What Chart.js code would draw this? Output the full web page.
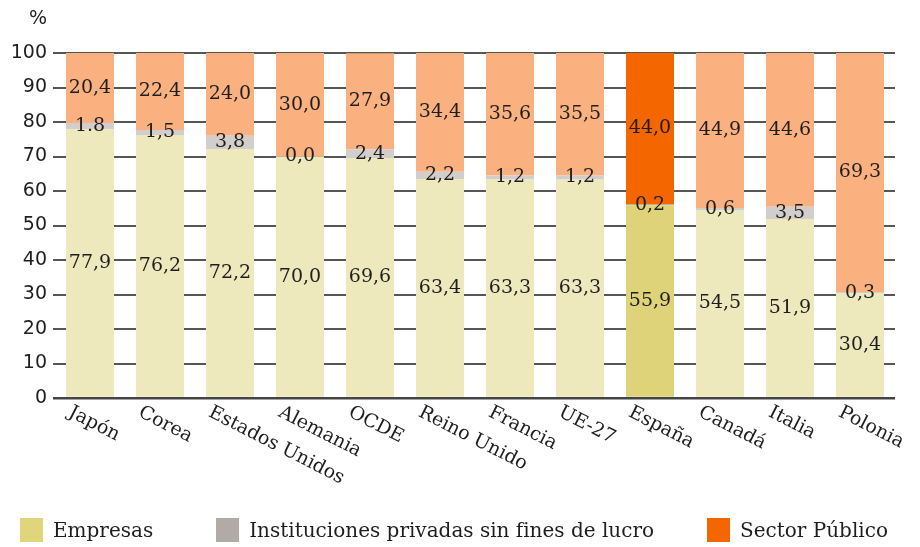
<!DOCTYPE html>
<html lang="es">
<head>
<meta charset="utf-8">
<script src="https://cdn.jsdelivr.net/npm/chart.js@4/dist/chart.umd.min.js"></script>
<style>
  html, body { margin: 0; padding: 0; background: #fff; }
  #contenedor { position: relative; width: 920px; height: 547px; }
  #leyenda {
    position: absolute; left: 20px; top: 518px;
    display: flex; gap: 63px;
    font: 20px "DejaVu Serif", serif; color: #1e1e1e;
  }
  #leyenda .item { display: flex; align-items: center; height: 24px; white-space: nowrap; }
  #leyenda .item:last-child { margin-left: -10px; }
  #leyenda .caja { width: 23px; height: 24px; margin-right: 10px; }
</style>
</head>
<body>
<div id="contenedor">
  <canvas id="graficoFinanciacion"></canvas>
  <div id="leyenda"></div>
</div>
<script>
// Países del eje X
const paises = ['Japón', 'Corea', 'Estados Unidos', 'Alemania', 'OCDE', 'Reino Unido', 'Francia', 'UE-27', 'España', 'Canadá', 'Italia', 'Polonia'];

// Porcentajes por sector de financiación
const empresas = [77.9, 76.2, 72.2, 70.0, 69.6, 63.4, 63.3, 63.3, 55.9, 54.5, 51.9, 30.4];
const instituciones = [1.8, 1.5, 3.8, 0.0, 2.4, 2.2, 1.2, 1.2, 0.2, 0.6, 3.5, 0.3];
const sectorPublico = [20.4, 22.4, 24.0, 30.0, 27.9, 34.4, 35.6, 35.5, 44.0, 44.9, 44.6, 69.3];

// Textos de las etiquetas de instituciones (Japón va con punto en el original)
const textoInstituciones = ['1.8', '1,5', '3,8', '0,0', '2,4', '2,2', '1,2', '1,2', '0,2', '0,6', '3,5', '0,3'];

// Eje Y
const ejeYMin = 0;
const ejeYMax = 100;
const ejeYPaso = 10;

// España va resaltada con colores más intensos
const destacado = 'España';
function colores(claro, oscuro) {
    return paises.map(p => p === destacado ? oscuro : claro);
}

const fuenteSerif = '"DejaVu Serif", serif';
const fuenteSans = '"DejaVu Sans", sans-serif';
const colorTexto = '#1e1e1e';

// Dibuja el valor en el centro de cada tramo
const etiquetasDatos = {
    id: 'etiquetasDatos',
    afterDatasetsDraw(chart) {
        const ctx = chart.ctx;
        ctx.save();
        ctx.font = '19px ' + fuenteSerif;
        ctx.fillStyle = colorTexto;
        ctx.textAlign = 'center';
        ctx.textBaseline = 'middle';
        chart.data.datasets.forEach((ds, i) => {
            chart.getDatasetMeta(i).data.forEach((barra, j) => {
                const texto = ds.etiquetas ? ds.etiquetas[j] : ds.data[j].toFixed(1).replace('.', ',');
                ctx.fillText(texto, barra.x, (barra.y + barra.base) / 2);
            });
        });
        ctx.restore();
    }
};

// Etiquetas del eje X giradas hacia abajo y el símbolo %
const textosEjes = {
    id: 'textosEjes',
    afterDraw(chart) {
        const ctx = chart.ctx;
        const x = chart.scales.x;
        const y = chart.scales.y;
        ctx.save();
        ctx.fillStyle = colorTexto;
        ctx.font = '19px ' + fuenteSerif;
        ctx.textAlign = 'left';
        ctx.textBaseline = 'top';
        paises.forEach((p, i) => {
            ctx.save();
            ctx.translate(x.getPixelForTick(i) - 16, x.top + 5);
            ctx.rotate(27 * Math.PI / 180);
            ctx.fillText(p, 0, 0);
            ctx.restore();
        });
        ctx.font = '19px ' + fuenteSans;
        ctx.textAlign = 'right';
        ctx.textBaseline = 'middle';
        ctx.fillText('%', y.right - 8, 19);
        ctx.restore();
    }
};

const coloresLeyenda = ['#E0D57B', '#B1AAA5', '#F46600'];

const grafico = new Chart(document.getElementById('graficoFinanciacion'), {
    type: 'bar',
    data: {
        labels: paises,
        datasets: [{
            label: 'Empresas',
            data: empresas,
            backgroundColor: colores('#EEE9BD', '#DFD37A')
        }, {
            label: 'Instituciones privadas sin fines de lucro',
            data: instituciones,
            etiquetas: textoInstituciones,
            backgroundColor: colores('#D2CECB', '#A19F9B')
        }, {
            label: 'Sector Público',
            data: sectorPublico,
            backgroundColor: colores('#FAB07F', '#F46600')
        }]
    },
    options: {
        responsive: true,
        maintainAspectRatio: false,
        animation: false,
        layout: { padding: { top: 53, right: 25, bottom: 149, left: 0 } },
        datasets: {
            bar: { barPercentage: 0.686, categoryPercentage: 1 }
        },
        scales: {
            x: {
                stacked: true,
                grid: { display: false },
                border: { display: false },
                ticks: { display: false },
                afterFit(scale) { scale.height = 0; }
            },
            y: {
                stacked: true,
                min: ejeYMin,
                max: ejeYMax,
                border: { display: false },
                grid: {
                    color: ctx => ctx.tick.value === 0 ? '#444' : '#555',
                    lineWidth: ctx => ctx.tick.value === 0 ? 2.5 : 2,
                    tickLength: 2
                },
                ticks: {
                    stepSize: ejeYPaso,
                    padding: 6,
                    color: colorTexto,
                    font: { family: fuenteSans, size: 19 }
                },
                afterFit(scale) { scale.width = 55; }
            }
        },
        plugins: {
            tooltip: { enabled: false },
            legend: { display: false }
        }
    },
    plugins: [etiquetasDatos, textosEjes]
});

// Leyenda en HTML con los colores de referencia
const leyenda = document.getElementById('leyenda');
grafico.data.datasets.forEach((ds, i) => {
    const item = document.createElement('div');
    item.className = 'item';
    const caja = document.createElement('span');
    caja.className = 'caja';
    caja.style.background = coloresLeyenda[i];
    item.appendChild(caja);
    item.appendChild(document.createTextNode(ds.label));
    leyenda.appendChild(item);
});
</script>
</body>
</html>
